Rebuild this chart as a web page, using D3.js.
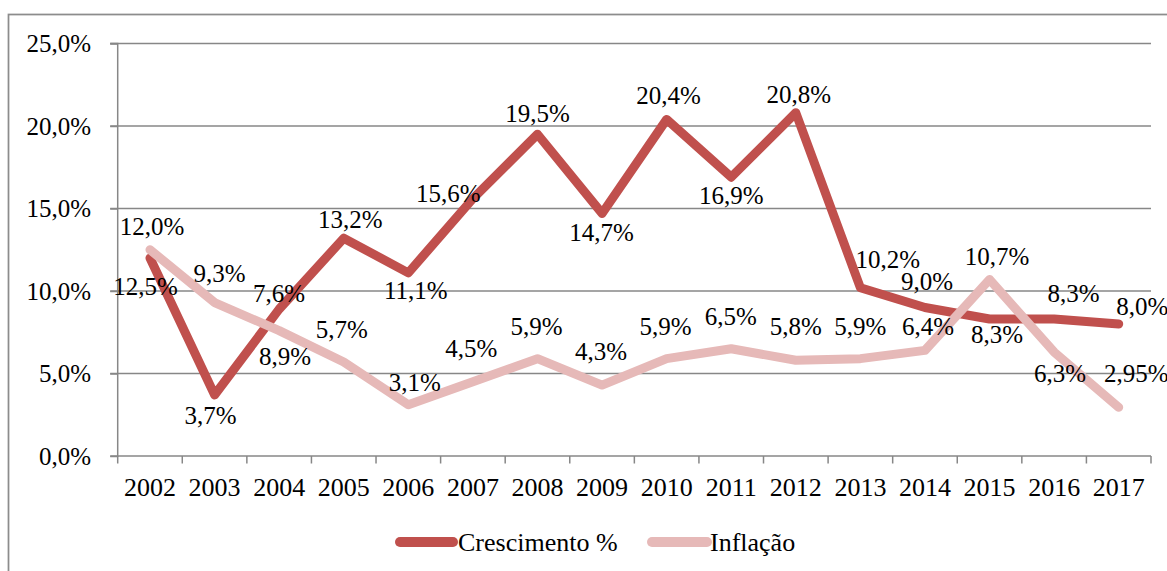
<!DOCTYPE html>
<html>
<head>
<meta charset="utf-8">
<script src="https://cdn.jsdelivr.net/npm/d3@7"></script>
<style>
  html, body { margin: 0; padding: 0; background: #fff; }
  svg { display: block; }
  text { font-family: "Liberation Serif", "Times New Roman", serif; fill: #000; }
</style>
</head>
<body>
<svg id="chart" width="1167" height="571"></svg>
<script>
// ---- Data ----
const years = ["2002","2003","2004","2005","2006","2007","2008","2009","2010","2011","2012","2013","2014","2015","2016","2017"];
const crescimento = [12.0, 3.7, 8.9, 13.2, 11.1, 15.6, 19.5, 14.7, 20.4, 16.9, 20.8, 10.2, 9.0, 8.3, 8.3, 8.0];
const inflacao    = [12.5, 9.3, 7.6, 5.7, 3.1, 4.5, 5.9, 4.3, 5.9, 6.5, 5.8, 5.9, 6.4, 10.7, 6.3, 2.95];
const crescimentoLabels = ["12,0%","3,7%","8,9%","13,2%","11,1%","15,6%","19,5%","14,7%","20,4%","16,9%","20,8%","10,2%","9,0%","8,3%","8,3%","8,0%"];
const inflacaoLabels    = ["12,5%","9,3%","7,6%","5,7%","3,1%","4,5%","5,9%","4,3%","5,9%","6,5%","5,8%","5,9%","6,4%","10,7%","6,3%","2,95%"];
const yTicks = [0, 5, 10, 15, 20, 25];
const yTickLabels = ["0,0%","5,0%","10,0%","15,0%","20,0%","25,0%"];
const seriesNames = ["Crescimento %", "Inflação"];

// ---- Layout (label offsets from each point, px: [dx, baseline dy]) ----
const crescLabelOffsets = [[2,-23],[-4,29],[6,56],[6.5,-10],[7.5,26.5],[-24.5,3],[0,-12.5],[-0.5,28],[2,-15],[0,27],[3,-9.5],[27.5,-19.5],[2,-17.5],[7.5,24],[19.5,-17.5],[23.5,-9]];
const inflLabelOffsets  = [[-4.5,45],[5,-21],[0,-29],[-2,-23.5],[6.5,-14],[-1.5,-25],[-1,-23.5],[-1,-25],[-1,-23.5],[-0.5,-23.5],[0,-25],[0,-23.5],[3,-15.5],[7.5,-14.5],[6,29.5],[17.5,-25.5]];

const colors = ["#C0504D", "#E6B9B8"];
const gridColor = "#878787";

const svg = d3.select("#chart");

// outer chart border (top & left visible, others off-canvas)
svg.append("rect")
  .attr("x", 8.5).attr("y", 14.5)
  .attr("width", 1170).attr("height", 580)
  .attr("fill", "none").attr("stroke", "#8c8c8c").attr("stroke-width", 1.75);

const pLeft = 117.7, pRight = 1151, pTop = 43.5, pBottom = 456;

const x = d3.scaleBand().domain(years).range([pLeft, pRight]).paddingInner(0).paddingOuter(0);
const y = d3.scaleLinear().domain([0, 25]).range([pBottom, pTop]);

// gridlines
svg.append("g").selectAll("line").data(yTicks.filter(d => d > 0)).join("line")
  .attr("x1", pLeft - 7.5).attr("x2", pRight)
  .attr("y1", d => y(d)).attr("y2", d => y(d))
  .attr("stroke", gridColor).attr("stroke-width", 1.5);

// y axis
const yAxis = d3.axisLeft(y).tickValues(yTicks).tickSize(7.5).tickPadding(19)
  .tickFormat((d, i) => yTickLabels[i]);
const gy = svg.append("g").attr("transform", `translate(${pLeft},0)`).call(yAxis);
gy.select(".domain").attr("stroke", gridColor).attr("stroke-width", 1.5).attr("d", `M-7.5,${pTop}H0V${pBottom}H-7.5`);
gy.selectAll(".tick line").attr("stroke", gridColor).attr("stroke-width", 1.5);
gy.selectAll(".tick text").attr("font-size", 25).attr("font-family", "Liberation Serif").attr("fill", "#000").attr("dy", "0.32em");

// x axis
const xAxis = d3.axisBottom(x).tickSize(0).tickPadding(0);
const gx = svg.append("g").attr("transform", `translate(0,${pBottom})`).call(xAxis);
gx.select(".domain").attr("stroke", gridColor).attr("stroke-width", 1.5).attr("d", `M${pLeft},0H${pRight}`);
gx.selectAll(".tick text").attr("font-size", 26).attr("font-family", "Liberation Serif").attr("fill", "#000").attr("y", 40).attr("dy", 0);
// category boundary ticks
const bounds = years.map(d => x(d)).concat([x(years[years.length - 1]) + x.bandwidth()]);
svg.append("g").selectAll("line").data(bounds).join("line")
  .attr("x1", d => d).attr("x2", d => d)
  .attr("y1", pBottom).attr("y2", pBottom + 7.5)
  .attr("stroke", gridColor).attr("stroke-width", 1.5);

// lines
const line = d3.line().x((d, i) => x(years[i]) + x.bandwidth() / 2).y(d => y(d));
const series = [
  {vals: crescimento, labels: crescimentoLabels, offs: crescLabelOffsets, color: colors[0]},
  {vals: inflacao, labels: inflacaoLabels, offs: inflLabelOffsets, color: colors[1]}
];
series.forEach(s => {
  svg.append("path").datum(s.vals)
    .attr("d", line)
    .attr("fill", "none").attr("stroke", s.color).attr("stroke-width", 9)
    .attr("stroke-linejoin", "round").attr("stroke-linecap", "round");
});

// data labels
series.forEach(s => {
  svg.append("g").selectAll("text").data(s.vals).join("text")
    .attr("x", (d, i) => x(years[i]) + x.bandwidth() / 2 + s.offs[i][0])
    .attr("y", (d, i) => y(d) + s.offs[i][1])
    .attr("text-anchor", "middle")
    .attr("font-size", 25)
    .text((d, i) => s.labels[i]);
});

// legend
const legend = svg.append("g");
const legendItems = [
  {name: seriesNames[0], color: colors[0], x1: 400, x2: 453, tx: 458},
  {name: seriesNames[1], color: colors[1], x1: 652, x2: 707, tx: 710}
];
legendItems.forEach(it => {
  legend.append("line").attr("x1", it.x1).attr("x2", it.x2).attr("y1", 542).attr("y2", 542)
    .attr("stroke", it.color).attr("stroke-width", 10).attr("stroke-linecap", "round");
  legend.append("text").attr("x", it.tx).attr("y", 550.5).attr("font-size", 26).text(it.name);
});
</script>
</body>
</html>
